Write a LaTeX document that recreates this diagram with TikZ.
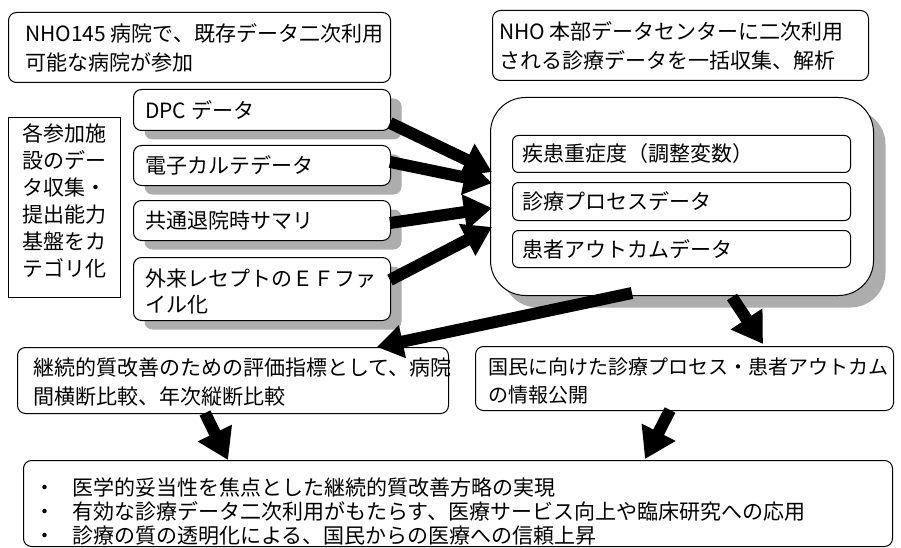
\documentclass[tikz,border=0pt]{standalone}
\usepackage{fontspec}
\setmainfont{Noto Sans CJK JP}
\usetikzlibrary{arrows.meta,calc,shadows}
\begin{document}
\begin{tikzpicture}[x=1pt,y=-1pt,
  box/.style={draw, line width=1pt, rounded corners=8pt, fill=white, inner sep=0pt, anchor=north west},
  sbox/.style={box, drop shadow={shadow xshift=11pt, shadow yshift=-9pt, fill=black!32, opacity=1}},
  ibox/.style={box, rounded corners=6pt},
  txt/.style={anchor=west, inner sep=0pt, align=left, font=\fontsize{21}{29}\selectfont},
  fat/.style={line width=12pt, -{Triangle[length=28pt,width=34pt]}},
]
\useasboundingbox (0,0) rectangle (901,548);

% top boxes
\node[box, minimum width=382pt, minimum height=70pt] (tl) at (8,12) {};
\node[txt] (tlT) at ($(tl.west)+(17,0)$) {NHO145 病院で、既存データ二次利用\\可能な病院が参加};
\node[box, minimum width=376pt, minimum height=70pt] (tr) at (492,10) {};
\node[txt] (trT) at ($(tr.west)+(7,0)$) {NHO 本部データセンターに二次利用\\される診療データを一括収集、解析};

% category box
\node[box, rounded corners=0pt, minimum width=112pt, minimum height=180pt] (cat) at (8,117) {};
\node[txt, font=\fontsize{21}{27}\selectfont] (catT) at ($(cat.west)+(14,-6.5)$) {各参加施\\設のデー\\タ収集・\\提出能力\\基盤をカ\\テゴリ化};

% data boxes
\node[sbox, minimum width=257pt, minimum height=41pt] (dpc) at (133,89) {};
\node[txt] (dpcT) at ($(dpc.west)+(12,0)$) {DPC データ};
\node[sbox, minimum width=257pt, minimum height=40pt] (emr) at (133,145) {};
\node[txt] (emrT) at ($(emr.west)+(12,0)$) {電子カルテデータ};
\node[sbox, minimum width=257pt, minimum height=40pt] (sum) at (133,200) {};
\node[txt] (sumT) at ($(sum.west)+(12,0)$) {共通退院時サマリ};
\node[sbox, minimum width=257pt, minimum height=63pt] (ef) at (133,257) {};
\node[txt, font=\fontsize{21}{26}\selectfont] (efT) at ($(ef.west)+(12,2)$) {外来レセプトのＥＦファ\\イル化};

% big box
\node[box, rounded corners=35pt, minimum width=383pt, minimum height=198pt,
  drop shadow={shadow xshift=12pt, shadow yshift=-12pt, fill=black!32, opacity=1}] (big) at (490,97) {};
\node[ibox, minimum width=338pt, minimum height=37pt] (sev) at (512,135) {};
\node[txt] (sevT) at ($(sev.west)+(10,0)$) {疾患重症度（調整変数）};
\node[ibox, minimum width=338pt, minimum height=38pt] (proc) at (512,182) {};
\node[txt] (procT) at ($(proc.west)+(10,0)$) {診療プロセスデータ};
\node[ibox, minimum width=338pt, minimum height=37pt] (out) at (512,230) {};
\node[txt] (outT) at ($(out.west)+(10,0)$) {患者アウトカムデータ};

% lower boxes
\node[box, minimum width=431pt, minimum height=66pt] (bl) at (17,347) {};
\node[txt] (blT) at ($(bl.west)+(16,2)$) {継続的質改善のための評価指標として、病院\\間横断比較、年次縦断比較};
\node[box, minimum width=418pt, minimum height=64pt] (br) at (475,346) {};
\node[txt, font=\fontsize{20}{28}\selectfont] (brT) at ($(br.west)+(13,2)$) {国民に向けた診療プロセス・患者アウトカム\\の情報公開};

\node[box, minimum width=869pt, minimum height=86pt] (bot) at (23,460) {};
\node[txt, font=\fontsize{21}{24}\selectfont] (botT) at ($(bot.west)+(11,8)$) {・\hspace{17pt}医学的妥当性を焦点とした継続的質改善方略の実現\\・\hspace{17pt}有効な診療データ二次利用がもたらす、医療サービス向上や臨床研究への応用\\・\hspace{17pt}診療の質の透明化による、国民からの医療への信頼上昇};

% arrow end points
\coordinate (s1) at (390,123); \coordinate (e1) at (492,172);
\coordinate (s2) at (390,162); \coordinate (e2) at (492,183);
\coordinate (s3) at (390,223); \coordinate (e3) at (492,208);
\coordinate (s4) at (390,280); \coordinate (e4) at (492,227);
\coordinate (s5) at (632,293); \coordinate (e5) at (377,347);
\coordinate (s6) at (732,297); \coordinate (e6) at (763,344);
\coordinate (s7) at (205,413); \coordinate (e7) at (228,460);
\coordinate (s8) at (670,410); \coordinate (e8) at (645,459);

\draw[fat] (s1) -- (e1);
\draw[fat] (s2) -- (e2);
\draw[fat] (s3) -- (e3);
\draw[fat] (s4) -- (e4);
\draw[fat, -{Triangle[length=26pt,width=32pt]}] (s5) -- (e5);
\draw[fat, -{Triangle[length=30pt,width=36pt]}] (s6) -- (e6);
\draw[fat, -{Triangle[length=30pt,width=36pt]}] (s7) -- (e7);
\draw[fat, -{Triangle[length=30pt,width=36pt]}] (s8) -- (e8);
\end{tikzpicture}
\end{document}
